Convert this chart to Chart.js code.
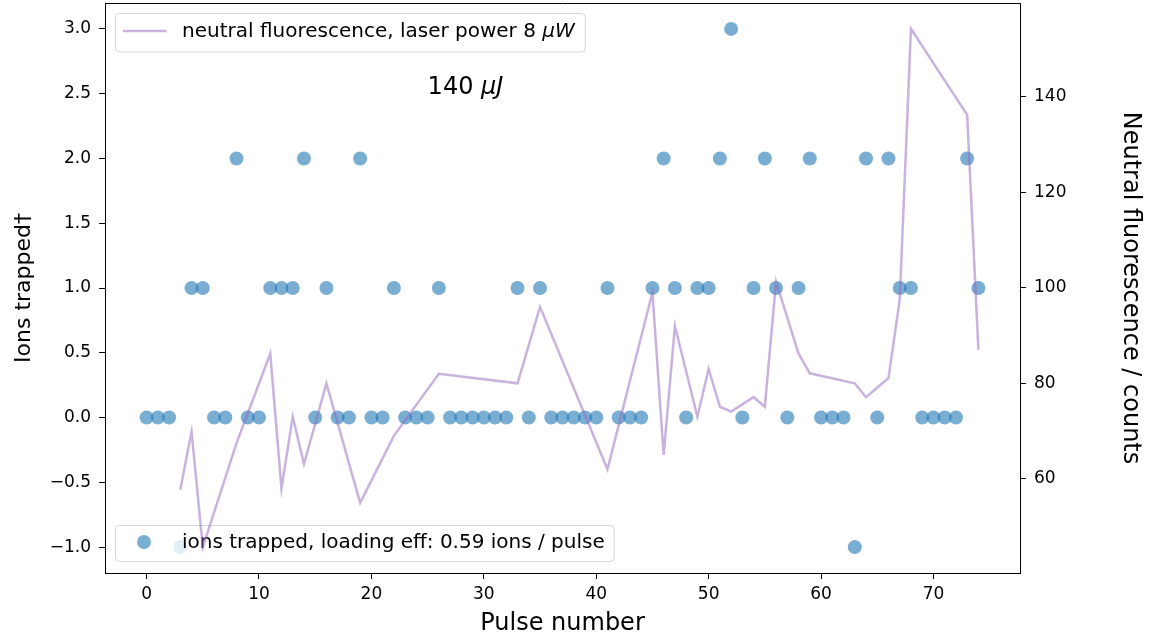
<!DOCTYPE html>
<html lang="en">
<head>
  <meta charset="UTF-8" />
  <title>Ions trapped per pulse</title>
  <script src="https://cdn.jsdelivr.net/npm/chart.js"></script>
  <style>
    html, body { margin: 0; padding: 0; background: #fff; }
    #wrap { width: 1150px; height: 639px; }
  </style>
</head>
<body>
  <div id="wrap"><canvas id="ionChart" width="1150" height="639"></canvas></div>

  <script>
    // pulse index and ions trapped on each pulse
    const pulses = [0, 1, 2, 3, 4, 5, 6, 7, 8, 9, 10, 11, 12, 13, 14, 15, 16, 17, 18, 19,
      20, 21, 22, 23, 24, 25, 26, 27, 28, 29, 30, 31, 32, 33, 34, 35, 36, 37, 38, 39,
      40, 41, 42, 43, 44, 45, 46, 47, 48, 49, 50, 51, 52, 53, 54, 55, 56, 57, 58, 59,
      60, 61, 62, 63, 64, 65, 66, 67, 68, 69, 70, 71, 72, 73, 74];
    const ionsTrapped = [0, 0, 0, -1, 1, 1, 0, 0, 2, 0, 0, 1, 1, 1, 2, 0, 1, 0, 0, 2,
      0, 0, 1, 0, 0, 0, 1, 0, 0, 0, 0, 0, 0, 1, 0, 1, 0, 0, 0, 0,
      0, 1, 0, 0, 0, 1, 2, 1, 0, 1, 1, 2, 3, 0, 1, 2, 1, 0, 1, 2,
      0, 0, 0, -1, 2, 0, 2, 1, 1, 0, 0, 0, 0, 2, 1];

    // neutral fluorescence (right axis)
    const fluorPulse = [3, 4, 5, 8, 11, 12, 13, 14, 16, 19, 22, 26, 33, 35, 41, 45, 46, 47,
      49, 50, 51, 52, 54, 55, 56, 58, 59, 63, 64, 66, 67, 68, 73, 74];
    const fluorCounts = [57.8, 69.9, 45.7, 67.5, 86.2, 58.0, 73.0, 63.1, 80.0, 55.0, 69.0, 82.0,
      80.0, 96.0, 62.0, 99.0, 65.0, 92.0, 73.0, 83.0, 75.1, 74.1, 77.1, 75.1, 101.3, 86.2, 82.1,
      80.0, 77.1, 81.1, 97.5, 154.2, 136.2, 87.0];

    const xTicks = [0, 10, 20, 30, 40, 50, 60, 70];
    const ionTicks = [-1, -0.5, 0, 0.5, 1, 1.5, 2, 2.5, 3];
    const fluorTicks = [60, 80, 100, 120, 140];

    const FAMILY = '"DejaVu Sans", sans-serif';
    const tickFont = { family: FAMILY, size: 17 };
    const dotColor = 'rgba(31,119,180,0.6)';
    const lineColor = 'rgba(148,103,189,0.5)';

    function setTicks(list) {
      return scale => { scale.ticks = list.map(v => ({ value: v })); };
    }

    // fixed box size, and no extra room for half tick labels
    function fixSize(prop, size) {
      return s => {
        s[prop] = size;
        s.paddingTop = 0; s.paddingBottom = 0; s.paddingLeft = 0; s.paddingRight = 0;
      };
    }

    function textRuns(ctx, runs, size) {
      let w = 0;
      for (const r of runs) {
        ctx.font = (r.italic ? 'italic ' : '') + size + 'px ' + FAMILY;
        w += ctx.measureText(r.text).width;
      }
      return w;
    }

    function drawRuns(ctx, runs, x, y, size) {
      ctx.textAlign = 'left';
      ctx.textBaseline = 'alphabetic';
      ctx.fillStyle = '#000';
      for (const r of runs) {
        ctx.font = (r.italic ? 'italic ' : '') + size + 'px ' + FAMILY;
        ctx.fillText(r.text, x, y);
        x += ctx.measureText(r.text).width;
      }
    }

    function legendBox(ctx, x, y, w, h) {
      const r = 4;
      ctx.save();
      ctx.beginPath();
      ctx.moveTo(x + r, y);
      ctx.arcTo(x + w, y, x + w, y + h, r);
      ctx.arcTo(x + w, y + h, x, y + h, r);
      ctx.arcTo(x, y + h, x, y, r);
      ctx.arcTo(x, y, x + w, y, r);
      ctx.closePath();
      ctx.fillStyle = 'rgba(255,255,255,0.8)';
      ctx.fill();
      ctx.strokeStyle = 'rgba(204,204,204,0.8)';
      ctx.lineWidth = 1;
      ctx.stroke();
      ctx.restore();
    }

    const fluorLegendText = [
      { text: 'neutral fluorescence, laser power 8 ' },
      { text: 'μW', italic: true }
    ];
    const ionLegendText = [{ text: 'ions trapped, loading eff: 0.59 ions / pulse' }];
    const energyText = [{ text: '140 ' }, { text: 'μJ', italic: true }];

    const extras = {
      id: 'extras',
      afterDatasetDraw(chart, args) {
        if (args.index !== 0) return;
        // legend of the ion scatter sits under the fluorescence line
        const { ctx, chartArea: ca } = chart;
        const w = textRuns(ctx, ionLegendText, 20) + 76;
        const bx = ca.left + 10.5, by = ca.bottom - 47.5;
        legendBox(ctx, bx, by, w, 36);
        ctx.save();
        ctx.fillStyle = dotColor;
        ctx.beginPath();
        ctx.arc(bx + 28.5, by + 16.5, 7, 0, Math.PI * 2);
        ctx.fill();
        ctx.restore();
        drawRuns(ctx, ionLegendText, bx + 66.5, by + 22.5, 20);
      },
      afterDatasetsDraw(chart) {
        const { ctx, chartArea: ca, scales } = chart;
        // fluorescence legend
        const w = textRuns(ctx, fluorLegendText, 20) + 77;
        const bx = ca.left + 10.5, by = ca.top + 10.5;
        legendBox(ctx, bx, by, w, 38.5);
        ctx.save();
        ctx.strokeStyle = lineColor;
        ctx.lineWidth = 2.5;
        ctx.beginPath();
        ctx.moveTo(bx + 7.5, by + 17.5);
        ctx.lineTo(bx + 51, by + 17.5);
        ctx.stroke();
        ctx.restore();
        drawRuns(ctx, fluorLegendText, bx + 66.5, by + 23.5, 20);

        // pulse energy note
        drawRuns(ctx, energyText, scales.x.getPixelForValue(25), scales.y.getPixelForValue(2.5), 24);
      },
      afterDraw(chart) {
        const { ctx, chartArea: ca } = chart;
        ctx.save();
        ctx.strokeStyle = '#000';
        ctx.lineWidth = 1;
        ctx.beginPath();
        ctx.moveTo(ca.left, Math.round(ca.top) + 0.5);
        ctx.lineTo(ca.right, Math.round(ca.top) + 0.5);
        ctx.stroke();
        ctx.restore();
      }
    };

    const axisGrid = { display: true, drawOnChartArea: false, drawTicks: true, tickLength: 6, color: '#000' };
    const axisBorder = { display: true, color: '#000', width: 1 };

    new Chart(document.getElementById('ionChart'), {
      type: 'scatter',
      data: {
        datasets: [
          {
            label: 'ions trapped',
            data: pulses.map((p, i) => ({ x: p, y: ionsTrapped[i] })),
            yAxisID: 'y',
            order: 2,
            pointRadius: 7,
            pointHoverRadius: 7,
            pointBorderWidth: 0,
            backgroundColor: dotColor,
            borderColor: dotColor
          },
          {
            type: 'line',
            label: 'neutral fluorescence',
            data: fluorPulse.map((p, i) => ({ x: p, y: fluorCounts[i] })),
            yAxisID: 'y2',
            order: 1,
            showLine: true,
            borderColor: lineColor,
            borderWidth: 2.5,
            pointRadius: 0,
            tension: 0,
            fill: false
          }
        ]
      },
      options: {
        responsive: false,
        animation: false,
        events: [],
        layout: { autoPadding: false, padding: { top: 3, left: 0, right: 0, bottom: 0 } },
        plugins: {
          legend: { display: false },
          tooltip: { enabled: false }
        },
        scales: {
          x: {
            type: 'linear',
            position: 'bottom',
            min: -3.7,
            max: 77.7,
            afterBuildTicks: setTicks(xTicks),
            afterFit: fixSize('height', 66),
            ticks: { font: tickFont, color: '#000', padding: 5, maxRotation: 0 },
            grid: axisGrid,
            border: axisBorder,
            title: {
              display: true, text: 'Pulse number', color: '#000',
              font: { family: FAMILY, size: 24 }, padding: { top: 0, bottom: 1 }
            }
          },
          y: {
            type: 'linear',
            position: 'left',
            min: -1.2,
            max: 3.2,
            afterBuildTicks: setTicks(ionTicks),
            afterFit: fixSize('width', 105),
            ticks: {
              font: tickFont, color: '#000', padding: 8,
              callback: v => (v < 0 ? '\u2212' : '') + Math.abs(v).toFixed(1)
            },
            grid: axisGrid,
            border: axisBorder,
            title: {
              display: true, text: 'Ions trapped†', color: '#000',
              font: { family: FAMILY, size: 22 }, padding: { top: 11, bottom: 0 }
            }
          },
          y2: {
            type: 'linear',
            position: 'right',
            min: 40.3,
            max: 159.6,
            afterBuildTicks: setTicks(fluorTicks),
            afterFit: fixSize('width', 130),
            ticks: { font: tickFont, color: '#000', padding: 8 },
            grid: axisGrid,
            border: axisBorder,
            title: {
              display: true, text: 'Neutral fluorescence / counts', color: '#000',
              font: { family: FAMILY, size: 24 }, padding: { top: 5, bottom: 0 }
            }
          }
        }
      },
      plugins: [extras]
    });
  </script>
</body>
</html>
